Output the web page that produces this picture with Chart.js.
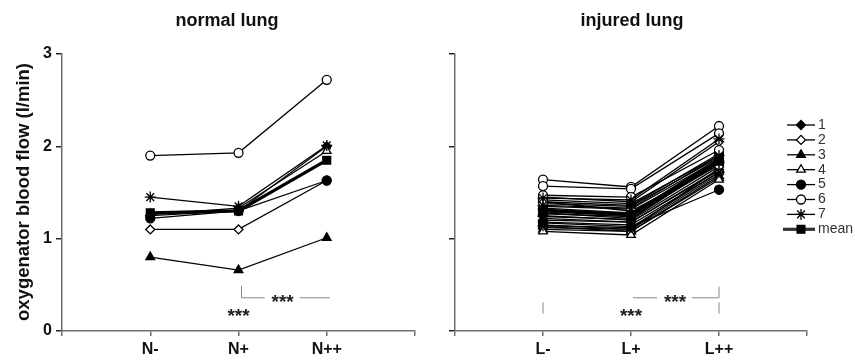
<!DOCTYPE html>
<html>
<head>
<meta charset="utf-8">
<script src="https://cdn.jsdelivr.net/npm/chart.js@4.4.1/dist/chart.umd.min.js"></script>
<style>
  body { margin:0; background:#fff; }
  #wrap { position:relative; width:855px; height:362px; }
  canvas { position:absolute; top:0; }
</style>
</head>
<body>
<div id="wrap">
  <canvas id="normalChart" width="430" height="362" style="left:0"></canvas>
  <canvas id="injuredChart" width="425" height="362" style="left:430px"></canvas>
</div>
<script>
// x categories
const normalLabels = ['N-', 'N+', 'N++'];
const injuredLabels = ['L-', 'L+', 'L++'];
const seriesNames = ['1', '2', '3', '4', '5', '6', '7', 'mean'];
const yTicks = [0, 1, 2, 3];

// normal lung, one line per animal (l/min)
const normal1 = [1.25, 1.30, 2.00];
const normal2 = [1.10, 1.10, 1.63];
const normal3 = [0.80, 0.66, 1.01];
const normal4 = [1.26, 1.33, 1.95];
const normal5 = [1.22, 1.30, 1.63];
const normal6 = [1.90, 1.93, 2.72];
const normal7 = [1.45, 1.35, 2.01];
const normalMean = [1.28, 1.30, 1.85];

// injured lung, several runs per animal
const injured1 = [[1.42, 1.38, 1.90], [1.33, 1.28, 1.85], [1.25, 1.20, 1.78], [1.18, 1.15, 1.72]];
const injured2 = [[1.45, 1.40, 2.05], [1.30, 1.25, 1.82], [1.20, 1.18, 1.75], [1.12, 1.10, 1.70]];
const injured3 = [[1.38, 1.35, 1.88], [1.28, 1.22, 1.84], [1.15, 1.10, 1.76], [1.10, 1.08, 1.68]];
const injured4 = [[1.35, 1.32, 1.86], [1.22, 1.18, 1.74], [1.13, 1.08, 1.66], [1.08, 1.04, 1.64]];
const injured5 = [[1.40, 1.36, 1.92], [1.27, 1.24, 1.80], [1.17, 1.13, 1.53], [1.32, 1.27, 1.87]];
const injured6 = [[1.64, 1.56, 2.22], [1.57, 1.54, 2.14], [1.47, 1.45, 1.96], [1.40, 1.30, 1.80]];
const injured7 = [[1.44, 1.42, 2.08], [1.36, 1.33, 1.90], [1.24, 1.21, 1.83], [1.14, 1.12, 1.72]];
const injuredMean = [1.30, 1.26, 1.84];

// marker look per series name
const markers = {
  '1':    { pointStyle: 'rectRot',  fill: '#000', radius: 4.5 },
  '2':    { pointStyle: 'rectRot',  fill: '#fff', radius: 4.5 },
  '3':    { pointStyle: 'triangle', fill: '#000', radius: 5 },
  '4':    { pointStyle: 'triangle', fill: '#fff', radius: 5 },
  '5':    { pointStyle: 'circle',   fill: '#000', radius: 4.5 },
  '6':    { pointStyle: 'circle',   fill: '#fff', radius: 4.5 },
  '7':    { pointStyle: 'star',     fill: '#000', radius: 5.5 },
  'mean': { pointStyle: 'rect',     fill: '#000', radius: 5.5 }
};

function toPoints(vals) {
  return vals.map((v, i) => ({ x: i + 1, y: v }));
}

let drawIndex = 0;
function makeDataset(name, vals) {
  const m = markers[name];
  const isMean = name === 'mean';
  drawIndex++;
  return {
    label: name,
    data: toPoints(vals),
    borderColor: '#000',
    borderWidth: isMean ? 3.2 : 1.3,
    pointStyle: m.pointStyle,
    pointRadius: m.radius,
    pointBackgroundColor: m.fill,
    pointBorderColor: '#000',
    pointBorderWidth: 1.3,
    fill: false,
    tension: 0,
    // later series sit on top, mean on top of all
    order: isMean ? -1000 : -drawIndex
  };
}

const normalSets = [normal1, normal2, normal3, normal4, normal5, normal6, normal7]
  .map((vals, i) => makeDataset(seriesNames[i], vals));
normalSets.push(makeDataset('mean', normalMean));

const injuredSets = [];
[injured1, injured2, injured3, injured4, injured5, injured6, injured7].forEach((rows, i) => {
  rows.forEach(vals => injuredSets.push(makeDataset(seriesNames[i], vals)));
});
injuredSets.push(makeDataset('mean', injuredMean));

const axisColor = '#6e6e6e';

function makeScales(labels, yWidth, showYLabels) {
  return {
    x: {
      type: 'linear', min: 0, max: 4,
      afterBuildTicks: s => { s.ticks = [0, 1, 2, 3, 4].map(v => ({ value: v })); },
      afterFit: s => { s.height = 31; },
      ticks: {
        callback: v => labels[v - 1] || '',
        color: '#111', font: { family: 'Arial', size: 16, weight: 'bold' },
        padding: 4, maxRotation: 0, autoSkip: false
      },
      grid: { drawOnChartArea: false, color: axisColor, tickLength: 5, lineWidth: 1.5 },
      border: { color: axisColor, width: 1.5 }
    },
    y: {
      min: 0, max: 3,
      afterBuildTicks: s => { s.ticks = yTicks.map(v => ({ value: v })); },
      afterFit: s => { s.width = yWidth; },
      ticks: {
        callback: v => showYLabels ? String(v) : '',
        color: '#111', font: { family: 'Arial', size: 16, weight: 'bold' },
        padding: 4
      },
      grid: { drawOnChartArea: false, color: '#222', tickLength: 6, lineWidth: 1.5 },
      border: { color: axisColor, width: 1.5 }
    }
  };
}

function drawStars(ctx, x, y) {
  ctx.save();
  ctx.fillStyle = '#222';
  ctx.font = 'bold 19px Arial';
  ctx.textAlign = 'center';
  ctx.textBaseline = 'middle';
  ctx.fillText('***', x, y + 5);
  ctx.restore();
}

function line(ctx, x1, y1, x2, y2) {
  ctx.beginPath();
  ctx.moveTo(x1, y1);
  ctx.lineTo(x2, y2);
  ctx.stroke();
}

// title, y title and significance marks
function decorPlugin(title, titleX, isNormal) {
  return {
    id: 'decor',
    afterDraw(chart) {
      const ctx = chart.ctx;
      const xs = chart.scales.x, ys = chart.scales.y;
      ctx.save();
      ctx.fillStyle = '#111';
      ctx.font = 'bold 18px Arial';
      ctx.textAlign = 'center';
      ctx.textBaseline = 'middle';
      ctx.fillText(title, titleX, 21);
      if (isNormal) {
        ctx.save();
        ctx.translate(24, 192);
        ctx.rotate(-Math.PI / 2);
        ctx.font = 'bold 18.5px Arial';
        ctx.fillText('oxygenator blood flow (l/min)', 0, 0);
        ctx.restore();
      }
      ctx.strokeStyle = '#888';
      ctx.lineWidth = 1;
      const x2 = xs.getPixelForValue(2), x3 = xs.getPixelForValue(3);
      const lvl = ys.getPixelForValue(0.36);
      const mid = (x2 + x3) / 2;
      if (isNormal) {
        line(ctx, x2 + 3, ys.getPixelForValue(0.49), x2 + 3, lvl);
        line(ctx, x2 + 3, lvl, mid - 18, lvl);
        line(ctx, mid + 17, lvl, x3 + 3, lvl);
      } else {
        const x1 = xs.getPixelForValue(1);
        line(ctx, x1, ys.getPixelForValue(0.31), x1, ys.getPixelForValue(0.19));
        line(ctx, x3, ys.getPixelForValue(0.31), x3, ys.getPixelForValue(0.19));
        line(ctx, x3, ys.getPixelForValue(0.48), x3, lvl);
        line(ctx, x2 + 2, lvl, mid - 18, lvl);
        line(ctx, mid + 17, lvl, x3, lvl);
      }
      drawStars(ctx, mid, lvl);
      drawStars(ctx, x2, ys.getPixelForValue(0.21));
      ctx.restore();
    }
  };
}

// legend with line + marker per series
const legendPlugin = {
  id: 'sideLegend',
  afterDraw(chart) {
    const ctx = chart.ctx;
    const x0 = 357, x1 = 385, top = 125, step = 14.9;
    seriesNames.forEach((name, i) => {
      const m = markers[name];
      const y = top + i * step;
      ctx.save();
      ctx.strokeStyle = name === 'mean' ? '#333' : '#000';
      ctx.lineWidth = name === 'mean' ? 3.2 : 1.3;
      line(ctx, name === 'mean' ? x0 - 4 : x0, y, x1, y);
      ctx.fillStyle = m.fill;
      ctx.strokeStyle = '#000';
      ctx.lineWidth = 1.3;
      Chart.helpers.drawPoint(ctx, { pointStyle: m.pointStyle, radius: m.radius, rotation: 0, borderWidth: 1.3 }, (x0 + x1) / 2, y);
      ctx.fillStyle = '#333';
      ctx.font = '14px Arial';
      ctx.textAlign = 'left';
      ctx.textBaseline = 'middle';
      ctx.fillText(name, x1 + 3, y);
      ctx.restore();
    });
  }
};

const commonOptions = {
  responsive: false,
  animation: false,
  plugins: { legend: { display: false }, tooltip: { enabled: false } }
};

new Chart(document.getElementById('normalChart').getContext('2d'), {
  type: 'line',
  data: { datasets: normalSets },
  options: Object.assign({}, commonOptions, {
    layout: { padding: { top: 54, right: 15, left: 0, bottom: 0 } },
    scales: makeScales(normalLabels, 62, true)
  }),
  plugins: [decorPlugin('normal lung', 227, true)]
});

new Chart(document.getElementById('injuredChart').getContext('2d'), {
  type: 'line',
  data: { datasets: injuredSets },
  options: Object.assign({}, commonOptions, {
    layout: { padding: { top: 54, right: 48, left: 0, bottom: 0 } },
    scales: makeScales(injuredLabels, 25, false)
  }),
  plugins: [decorPlugin('injured lung', 202, false), legendPlugin]
});
</script>
</body>
</html>
